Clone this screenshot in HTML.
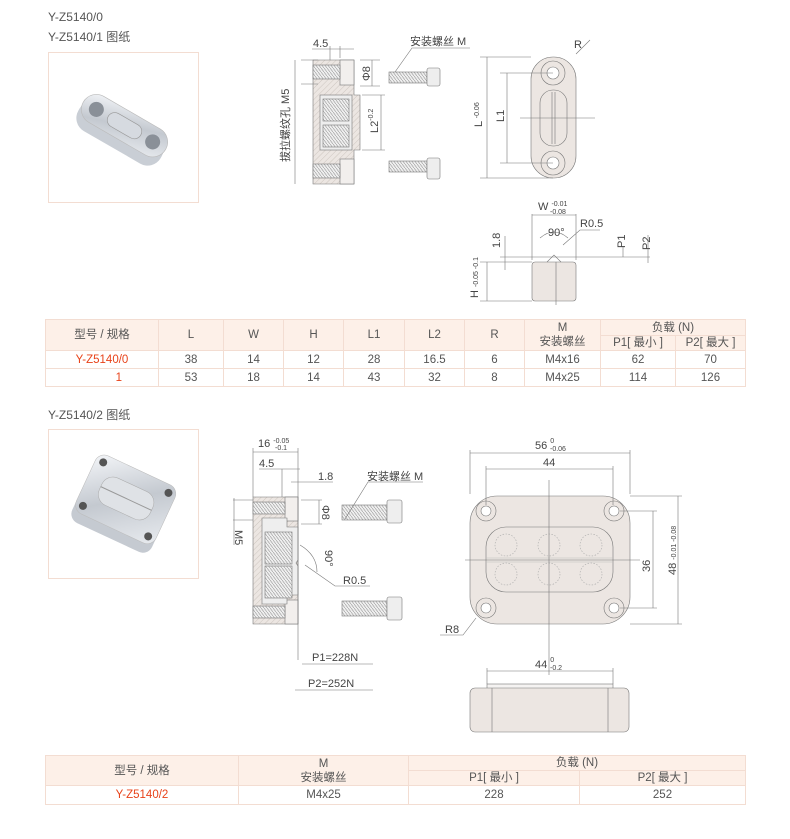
<!DOCTYPE html>
<html><head><meta charset="utf-8"><style>
body{margin:0;background:#fff;width:790px;height:839px;overflow:hidden;position:relative;font-family:"Liberation Sans","Noto Sans CJK SC",sans-serif;color:#555}
.t{position:absolute;font-size:12px;color:#555}
.box{position:absolute;border:1px solid #f3ddd2;background:#fff}
table{position:absolute;border-collapse:collapse;font-size:11.5px;color:#555;text-align:center}
td{border:1px solid #f3ddd2;padding:0;line-height:14px}
.h{background:#fdf0e8}
.r{color:#e8431a}
svg{position:absolute;left:0;top:0}
</style></head><body>
<div class="t" style="left:48px;top:10px">Y-Z5140/0</div>
<div class="t" style="left:48px;top:28px">Y-Z5140/1 图纸</div>
<div class="box" style="left:48px;top:52px;width:149px;height:149px"></div>
<div class="t" style="left:48px;top:406px">Y-Z5140/2 图纸</div>
<div class="box" style="left:48px;top:429px;width:149px;height:148px"></div>

<table style="left:45px;top:319px;width:701px">
<tr style="height:16px" class="h"><td rowspan="2" class="h" style="width:112px">型号 / 规格</td><td rowspan="2" style="width:64px">L</td><td rowspan="2" style="width:59px">W</td><td rowspan="2" style="width:59px">H</td><td rowspan="2" style="width:60px">L1</td><td rowspan="2" style="width:59px">L2</td><td rowspan="2" style="width:59px">R</td><td rowspan="2" style="width:75px">M<br>安装螺丝</td><td colspan="2">负载 (N)</td></tr>
<tr style="height:15px" class="h"><td style="width:74px">P1[ 最小 ]</td><td>P2[ 最大 ]</td></tr>
<tr style="height:18px"><td class="r">Y-Z5140/0</td><td>38</td><td>14</td><td>12</td><td>28</td><td>16.5</td><td>6</td><td>M4x16</td><td>62</td><td>70</td></tr>
<tr style="height:18px"><td class="r" style="text-align:right;padding-right:36px">1</td><td>53</td><td>18</td><td>14</td><td>43</td><td>32</td><td>8</td><td>M4x25</td><td>114</td><td>126</td></tr>
</table>

<table style="left:45px;top:755px;width:701px">
<tr style="height:15px" class="h"><td rowspan="2" style="width:192px">型号 / 规格</td><td rowspan="2" style="width:169px">M<br>安装螺丝</td><td colspan="2">负载 (N)</td></tr>
<tr style="height:14px" class="h"><td style="width:170px">P1[ 最小 ]</td><td>P2[ 最大 ]</td></tr>
<tr style="height:19px"><td class="r">Y-Z5140/2</td><td>M4x25</td><td>228</td><td>252</td></tr>
</table>

<svg width="790" height="839" viewBox="0 0 790 839" font-family="Liberation Sans, Noto Sans CJK SC, sans-serif" font-size="11" fill="#444">
<defs>
<linearGradient id="m" x1="0" y1="0" x2="1" y2="1"><stop offset="0" stop-color="#f4f6f9"/><stop offset=".5" stop-color="#c4c9d0"/><stop offset="1" stop-color="#e8ebef"/></linearGradient>
<pattern id="hat" width="4" height="4" patternUnits="userSpaceOnUse" patternTransform="rotate(45)"><rect width="4" height="4" fill="#ece6e2"/><line x1="0" y1="0" x2="0" y2="4" stroke="#b9b0aa" stroke-width=".6"/></pattern>
<pattern id="spr" width="3" height="4" patternUnits="userSpaceOnUse"><rect width="3" height="4" fill="#eee"/><line x1="0" y1="0" x2="3" y2="4" stroke="#999" stroke-width=".6"/></pattern>
</defs>
<!-- photo 1 -->
<g transform="translate(122,130) rotate(30) scale(1.25)">
<rect x="-38" y="-10" width="76" height="26" rx="12" fill="#c9ced5"/>
<rect x="-38" y="-16" width="76" height="24" rx="12" fill="url(#m)" stroke="#bbb" stroke-width=".5"/>
<circle cx="-26" cy="-4" r="6" fill="#8a9098"/><circle cx="26" cy="-4" r="6" fill="#8a9098"/>
<rect x="-15" y="-10" width="30" height="12" rx="6" fill="#d6dae0" stroke="#999" stroke-width=".5"/>
</g>
<!-- photo 2 -->
<g transform="translate(124,503) rotate(25)">
<rect x="-44" y="-30" width="88" height="68" rx="10" fill="#c5cad1"/>
<rect x="-44" y="-36" width="88" height="64" rx="10" fill="url(#m)" stroke="#bbb" stroke-width=".5"/>
<rect x="-28" y="-20" width="56" height="30" rx="12" fill="#dfe2e6" stroke="#aaa" stroke-width=".5"/>
<line x1="-28" y1="-5" x2="28" y2="-5" stroke="#999"/>
<circle cx="-36" cy="-28" r="4" fill="#555"/><circle cx="36" cy="-28" r="4" fill="#555"/><circle cx="-36" cy="20" r="4" fill="#555"/><circle cx="36" cy="20" r="4" fill="#555"/>
</g>

<g stroke="#777" stroke-width=".6" fill="none">
<path d="M313,60 H354 V95 H360 V150 H354 V184 H313 Z" fill="url(#hat)"/>
<rect x="340" y="60" width="14" height="25" fill="#f2efed"/>
<rect x="340" y="159" width="14" height="25" fill="#f2efed"/>
<rect x="320" y="95" width="32" height="55" fill="#eee"/>
<rect x="323" y="99" width="26" height="22" fill="url(#spr)"/>
<rect x="323" y="125" width="26" height="22" fill="url(#spr)"/>
<rect x="313" y="65" width="27" height="14" fill="url(#spr)"/>
<rect x="313" y="164" width="27" height="14" fill="url(#spr)"/>
<rect x="389" y="72" width="38" height="11" fill="url(#spr)"/><rect x="427" y="68" width="13" height="18" rx="2" fill="#eee"/>
<rect x="389" y="161" width="38" height="11" fill="url(#spr)"/><rect x="427" y="158" width="13" height="21" rx="2" fill="#eee"/>
<path d="M301,60 H318 M301,84 H318 M295,60 V184 M360,60 H380 M360,86 H380 M372,60 V86 M362,95 H385 M362,150 H385 M381,95 V150 M330,46 V60 M340,46 V58 M312,49 H354 M395,72 L412,48 H470"/>
<rect x="531" y="57" width="45" height="121" rx="22" fill="#ece6e2" stroke="#777"/>
<circle cx="553" cy="73" r="12"/><circle cx="553" cy="73" r="6" fill="#fff"/>
<circle cx="553" cy="163" r="12"/><circle cx="553" cy="163" r="6" fill="#fff"/>
<rect x="540" y="90" width="27" height="56" rx="13"/>
<path d="M552,92 V144 M555,92 V144"/>
<path d="M480,57 H531 M480,178 H553 M487,57 V178 M500,73 H553 M500,163 H553 M507,73 V163 M520,118 H595 M576,54 L590,40"/>
<rect x="532" y="262" width="44" height="39" rx="3" fill="#ece6e2"/>
<path d="M547,262 L554,255 L561,262 M532,214 V260 M576,214 V260 M532,215 H576 M540,238 Q554,226 568,238 M563,245 L580,230 H600 M500,257 H650 M480,262 H532 M480,301 H532 M487,262 V301 M505,236 V270 M623,246 V257 M648,235 V263 M556,262 V305"/>
<path d="M253,497 H298 V624 H253 Z" fill="url(#hat)"/>
<rect x="285" y="497" width="13" height="24" fill="#f2efed"/>
<rect x="285" y="600" width="13" height="24" fill="#f2efed"/>
<path d="M262,518 H287 V527 H298 V560 L296,563 L298,566 V595 H287 V604 H262 Z" fill="#eee"/>
<rect x="265" y="532" width="27" height="32" fill="url(#spr)"/>
<rect x="265" y="566" width="27" height="32" fill="url(#spr)"/>
<rect x="253" y="502" width="32" height="12" fill="url(#spr)"/>
<rect x="253" y="606" width="32" height="12" fill="url(#spr)"/>
<rect x="342" y="505" width="45" height="15" fill="url(#spr)"/><rect x="387" y="500" width="15" height="23" rx="2" fill="#eee"/>
<rect x="342" y="601" width="45" height="15" fill="url(#spr)"/><rect x="387" y="597" width="15" height="23" rx="2" fill="#eee"/>
<path d="M253,448 V497 M298,448 V660 M253,452 H298 M259,469 H300 M282,469 V497 M291,482 H333 M301,500 H322 M301,524 H322 M319,500 V524 M233,500 H253 M233,520 H253 M234,498 V545 M300,545 Q317,555 317,572 M305,565 L335,586 H370 M345,519 L368,482 H423 M302,664 H373 M295,690 H373"/>
<rect x="470" y="496" width="160" height="128" rx="27" fill="#ece6e2"/>
<circle cx="486" cy="511" r="10"/><circle cx="486" cy="511" r="5" fill="#fff"/>
<circle cx="614" cy="511" r="10"/><circle cx="614" cy="511" r="5" fill="#fff"/>
<circle cx="486" cy="608" r="10"/><circle cx="486" cy="608" r="5" fill="#fff"/>
<circle cx="614" cy="608" r="10"/><circle cx="614" cy="608" r="5" fill="#fff"/>
<rect x="486" y="527" width="127" height="65" rx="20"/>
<path d="M486,558 H613 M486,562 H613" stroke="#bbb"/>
<g stroke-dasharray="1.5,1.5" stroke="#aaa"><circle cx="506" cy="545" r="11"/><circle cx="549" cy="545" r="11"/><circle cx="591" cy="545" r="11"/><circle cx="506" cy="574" r="11"/><circle cx="549" cy="574" r="11"/><circle cx="591" cy="574" r="11"/></g>
<path d="M470,450 V494 M630,450 V494 M470,453 H630 M486,469 H613 M486,466 V505 M613,466 V505 M549,480 V675 M465,560 H640 M620,511 H657 M620,608 H657 M653,511 V608 M630,496 H682 M630,624 H682 M678,496 V624 M440,635 H463 L476,618"/>
<rect x="487" y="684" width="126" height="5" fill="#f5f3f2"/>
<rect x="470" y="688" width="159" height="44" rx="5" fill="#ece6e2"/>
<path d="M492,688 V732 M608,688 V732 M487,671 H613 M487,668 V684 M613,668 V684"/>
</g>

<g font-size="11">
<text x="313" y="47">4.5</text>
<text x="410" y="45">安装螺丝 M</text>
<text x="574" y="48">R</text>
<text transform="translate(370,81) rotate(-90)">Φ8</text>
<text transform="translate(378,133) rotate(-90)">L2<tspan font-size="7" dy="-5">-0.2</tspan></text>
<text transform="translate(289,162) rotate(-90)">拔拉螺纹孔 M5</text>
<text transform="translate(482,127) rotate(-90)">L <tspan font-size="7" dy="-3">-0.06</tspan></text>
<text transform="translate(504,122) rotate(-90)">L1</text>
<text x="538" y="210">W <tspan font-size="7" dy="-4">-0.01</tspan><tspan font-size="7" x="550" dy="8">-0.08</tspan></text>
<text x="548" y="236">90°</text>
<text x="580" y="227">R0.5</text>
<text transform="translate(500,248) rotate(-90)">1.8</text>
<text transform="translate(625,248) rotate(-90)">P1</text>
<text transform="translate(650,250) rotate(-90)">P2</text>
<text transform="translate(478,298) rotate(-90)">H <tspan font-size="7">-0.05 -0.1</tspan></text>
<text x="258" y="447">16 <tspan font-size="7" dy="-4">-0.05</tspan><tspan font-size="7" x="275" dy="7">-0.1</tspan></text>
<text x="259" y="467">4.5</text>
<text x="318" y="480">1.8</text>
<text x="367" y="480">安装螺丝 M</text>
<text transform="translate(322,505) rotate(90)">Φ8</text>
<text transform="translate(235,530) rotate(90)">M5</text>
<text transform="translate(325,550) rotate(90)">90°</text>
<text x="343" y="584">R0.5</text>
<text x="312" y="661">P1=228N</text>
<text x="308" y="687">P2=252N</text>
<text x="535" y="449">56 <tspan font-size="7" dy="-6">0</tspan><tspan font-size="7" x="550" dy="8">-0.06</tspan></text>
<text x="543" y="466">44</text>
<text transform="translate(650,572) rotate(-90)">36</text>
<text transform="translate(676,575) rotate(-90)">48 <tspan font-size="7">-0.01 -0.08</tspan></text>
<text x="445" y="633">R8</text>
<text x="535" y="668">44 <tspan font-size="7" dy="-6">0</tspan><tspan font-size="7" x="550" dy="8">-0.2</tspan></text>
</g>
</svg>
</body></html>
